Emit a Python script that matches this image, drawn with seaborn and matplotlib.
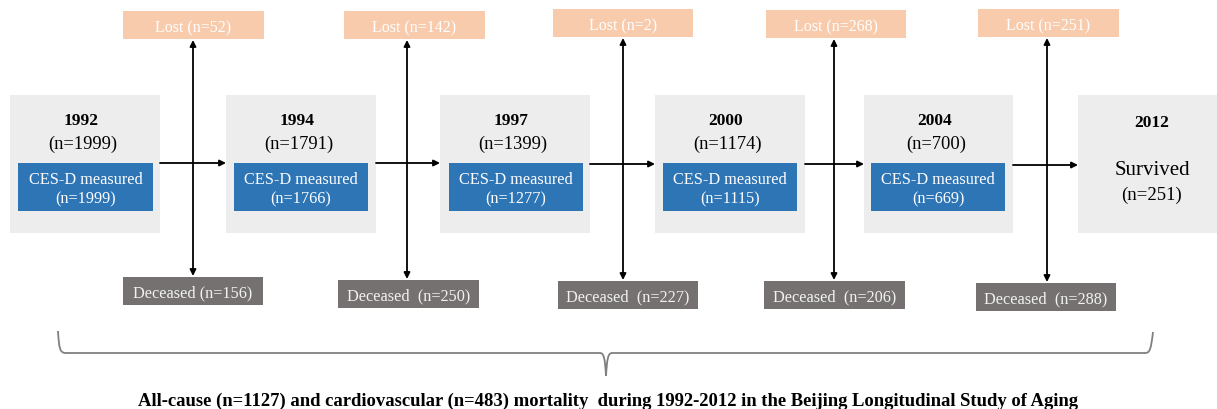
import matplotlib
matplotlib.use("Agg")
import matplotlib.pyplot as plt
import seaborn as sns
from matplotlib.patches import Rectangle
from matplotlib.path import Path
from matplotlib.patches import PathPatch

# Data
years = ["1992", "1994", "1997", "2000", "2004", "2012"]
totals = [1999, 1791, 1399, 1174, 700, 251]
cesd_measured = [1999, 1766, 1277, 1115, 669]
lost = [52, 142, 2, 268, 251]
deceased = [156, 250, 227, 206, 288]
caption = ("All-cause (n=1127) and cardiovascular (n=483) mortality  during "
           "1992-2012 in the Beijing Longitudinal Study of Aging")

# Layout (pixels)
wave_x = [(10, 160), (226, 376), (440, 590), (655, 805), (864, 1013), (1078, 1217)]
wave_y = (96, 234)
blue_x = [(18, 153), (234, 368), (449, 583), (663, 797), (871, 1005)]
blue_y = (164, 212)
lost_x = [(123, 264), (344, 485), (553, 693), (766, 906), (978, 1119)]
lost_y = [(12, 40), (12, 40), (10, 38), (11, 39), (10, 38)]
dec_x = [(123, 263), (338, 479), (558, 698), (764, 905), (976, 1116)]
dec_y = [(278, 306), (281, 309), (282, 310), (282, 310), (284, 312)]
vline_x = [193, 407, 623, 834, 1047]
hline_y = [164, 164, 165, 165, 166]

GRAY = "#ededed"
BLUE = "#2e75b6"
PEACH = "#f8cbad"
DARK = "#767171"

sns.set_theme(style="white")
plt.rcParams["font.family"] = ["Liberation Serif", "DejaVu Serif"]

fig = plt.figure(figsize=(12.17, 4.10), dpi=100)
ax = fig.add_axes([0, 0, 1, 1])
ax.set_xlim(0, 1217)
ax.set_ylim(410, 0)
ax.axis("off")


def box(x, y, color):
    ax.add_patch(Rectangle((x[0], y[0]), x[1] - x[0], y[1] - y[0],
                           facecolor=color, edgecolor="none", zorder=1))


for i, year in enumerate(years):
    box(wave_x[i], wave_y, GRAY)
    cx = (wave_x[i][0] + wave_x[i][1]) / 2
    if i < len(cesd_measured):
        ax.text(cx - 4, 121, year, ha="center", va="center", fontsize=12.5,
                fontweight="bold", color="black", zorder=3)
        ax.text(cx - 2, 144, f"(n={totals[i]})", ha="center", va="center",
                fontsize=13.3, color="black", zorder=3)
        box(blue_x[i], blue_y, BLUE)
        bx = (blue_x[i][0] + blue_x[i][1]) / 2
        ax.text(bx, 180, "CES-D measured", ha="center", va="center",
                fontsize=11.7, color="white", zorder=3)
        ax.text(bx, 199, f"(n={cesd_measured[i]})", ha="center", va="center",
                fontsize=11.7, color="white", zorder=3)
    else:
        cx = 1152
        ax.text(cx, 123, year, ha="center", va="center", fontsize=12.5,
                fontweight="bold", color="black", zorder=3)
        ax.text(cx, 171, "Survived", ha="center", va="center", fontsize=15,
                color="black", zorder=3)
        ax.text(cx, 195, f"(n={totals[i]})", ha="center", va="center",
                fontsize=13.5, color="black", zorder=3)

for i in range(len(lost)):
    box(lost_x[i], lost_y[i], PEACH)
    ax.text((lost_x[i][0] + lost_x[i][1]) / 2, (lost_y[i][0] + lost_y[i][1]) / 2 + 2,
            f"Lost (n={lost[i]})", ha="center", va="center", fontsize=11.5,
            color="white", zorder=3)
    box(dec_x[i], dec_y[i], DARK)
    sep = " " if i == 0 else "  "
    ax.text((dec_x[i][0] + dec_x[i][1]) / 2, (dec_y[i][0] + dec_y[i][1]) / 2 + 1,
            f"Deceased{sep}(n={deceased[i]})", ha="center", va="center",
            fontsize=11.7, color="#f2f2f2", zorder=3)

    # vertical double arrow
    ax.annotate("", xy=(vline_x[i], lost_y[i][1] + 1), xytext=(vline_x[i], dec_y[i][0] - 1),
                arrowprops=dict(arrowstyle="<|-|>", color="black", lw=1.3,
                                mutation_scale=9, shrinkA=0, shrinkB=0), zorder=2)
    # horizontal arrow
    ax.annotate("", xy=(wave_x[i + 1][0], hline_y[i]), xytext=(wave_x[i][1], hline_y[i]),
                arrowprops=dict(arrowstyle="-|>", color="black", lw=1.3,
                                mutation_scale=9, shrinkA=0, shrinkB=0), zorder=2)

# Curly brace
verts = [(58, 332), (59, 350), (60, 354), (66, 354),
         (600, 354), (604, 354), (605, 360), (606, 377),
         (607, 360), (608, 354), (612, 354),
         (1145, 354), (1150, 354), (1151, 350), (1153, 333)]
codes = [Path.MOVETO, Path.CURVE4, Path.CURVE4, Path.CURVE4,
         Path.LINETO, Path.CURVE4, Path.CURVE4, Path.CURVE4,
         Path.CURVE4, Path.CURVE4, Path.CURVE4,
         Path.LINETO, Path.CURVE4, Path.CURVE4, Path.CURVE4]
ax.add_patch(PathPatch(Path(verts, codes), facecolor="none", edgecolor="#808080", lw=1.3))

ax.text(608, 401, caption, ha="center", va="center", fontsize=13.4,
        fontweight="bold", color="black")

fig.savefig("out.png", dpi=100)
